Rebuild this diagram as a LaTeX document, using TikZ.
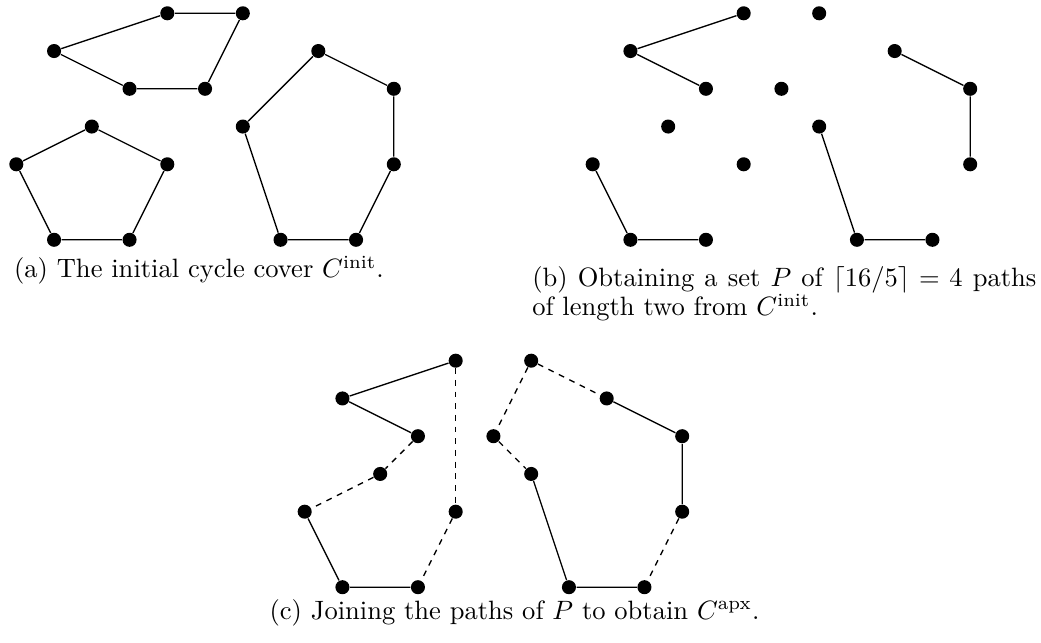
\documentclass[tikz,border=0pt]{standalone}
\usepackage{amsmath}
\tikzset{
  dot/.style={circle,fill=black,inner sep=0pt,minimum size=5.3pt},
  edge/.style={line width=0.5pt},
  joinedge/.style={line width=0.5pt,dash pattern=on 2.2pt off 2.2pt},
  captext/.style={font=\fontsize{10}{10.95}\selectfont,inner sep=0pt}
}
\newcommand\placeverts[1]{%
  \foreach \n/\px/\py in {1/4/0,2/6/0,3/1/1,4/3/2,5/5/2,6/2/3,7/0/4,8/4/4,9/1/6,10/3/6,11/8/1,12/6/3,13/10/2,14/10/4,15/7/6,16/9/6}
    {\node[dot] (#1\n) at (\px,\py) {};}%
}
\begin{document}
\begin{tikzpicture}[x=0.5cm,y=-0.5cm]
\useasboundingbox (0,0) rectangle (27.576,17.033);
% (a)
\begin{scope}[shift={(0.432,0.352)}]
  \placeverts{a}
  \draw[edge] (a3)--(a1)--(a2)--(a5)--(a4)--(a3);
  \draw[edge] (a6)--(a7)--(a9)--(a10)--(a8)--(a6);
  \draw[edge] (a12)--(a11)--(a13)--(a14)--(a16)--(a15)--(a12);
\end{scope}
% (b)
\begin{scope}[shift={(15.70,0.352)}]
  \placeverts{b}
  \draw[edge] (b1)--(b3)--(b4);
  \draw[edge] (b7)--(b9)--(b10);
  \draw[edge] (b11)--(b13)--(b14);
  \draw[edge] (b12)--(b15)--(b16);
\end{scope}
% (c)
\begin{scope}[shift={(8.071,9.555)}]
  \placeverts{c}
  \draw[edge] (c1)--(c3)--(c4);
  \draw[edge] (c7)--(c9)--(c10);
  \draw[edge] (c11)--(c13)--(c14);
  \draw[edge] (c12)--(c15)--(c16);
  \draw[joinedge] (c1)--(c8);
  \draw[joinedge] (c4)--(c6);
  \draw[joinedge] (c6)--(c7);
  \draw[joinedge] (c8)--(c10);
  \draw[joinedge] (c2)--(c5);
  \draw[joinedge] (c5)--(c12);
  \draw[joinedge] (c2)--(c11);
  \draw[joinedge] (c14)--(c16);
\end{scope}
% captions
\node[captext,anchor=base] (capa) at (5.27,7.364) {(a) The initial cycle cover $C^{\text{init}}$.};
\node[captext,anchor=base west,text width=190pt,align=justify] (capb) at (14.085,7.595)
  {(b) Obtaining a set $P$ of $\lceil 16/5\rceil = 4$ paths of length two from $C^{\text{init}}$.};
\node[captext,anchor=base] (capc) at (13.63,16.41) {(c) Joining the paths of $P$ to obtain $C^{\text{apx}}$.};
\end{tikzpicture}
\end{document}
